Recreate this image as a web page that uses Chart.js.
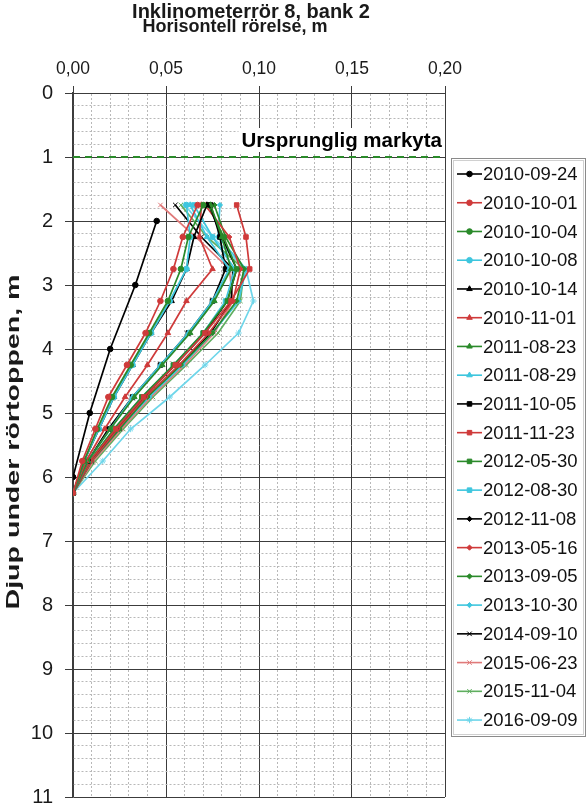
<!DOCTYPE html>
<html>
<head>
<meta charset="utf-8">
<script src="https://cdn.jsdelivr.net/npm/chart.js@4.4.0/dist/chart.umd.min.js"></script>
<style>
html,body{margin:0;padding:0;background:#fff;}
#wrap{width:588px;height:807px;position:relative;}
canvas{display:block;}
</style>
</head>
<body>
<div id="wrap"><canvas id="c" width="588" height="807"></canvas></div>
<script>
// ---------- texts ----------
const titleText = 'Inklinometerrör 8, bank 2';
const xAxisTitle = 'Horisontell rörelse, m';
const yAxisTitle = 'Djup under rörtoppen, m';
const groundLabel = 'Ursprunglig markyta';

// ---------- axes ----------
const xMin = 0, xMax = 0.20, xStep = 0.01, xMajor = 0.05;
const yMin = 0, yMax = 11, yStep = 0.2;

// ---------- ground surface line ----------
const groundX = [0, 0.20];
const groundDepth = [1, 1];

// ---------- depths (m) ----------
const depthsFirst = [2, 3, 4, 5, 6];
const depths = [1.75, 2.25, 2.75, 3.25, 3.75, 4.25, 4.75, 5.25, 5.75, 6.25];

// ---------- series dates ----------
const dates = ['2010-09-24','2010-10-01','2010-10-04','2010-10-08','2010-10-14','2010-11-01',
  '2011-08-23','2011-08-29','2011-10-05','2011-11-23','2012-05-30','2012-08-30','2012-11-08',
  '2013-05-16','2013-09-05','2013-10-30','2014-09-10','2015-06-23','2015-11-04','2016-09-09'];

// ---------- horizontal displacement (m) ----------
const d20100924 = [0.045, 0.0335, 0.020, 0.009, 0.000];
const d20101001 = [0.067, 0.059, 0.054, 0.047, 0.039, 0.029, 0.019, 0.012, 0.005, 0];
const d20101004 = [0.070, 0.062, 0.058, 0.051, 0.041, 0.031, 0.021, 0.013, 0.006, 0];
const d20101008 = [0.061, 0.063, 0.061, 0.052, 0.042, 0.032, 0.022, 0.014, 0.006, 0];
const d20101014 = [0.072, 0.065, 0.061, 0.053, 0.042, 0.032, 0.022, 0.014, 0.006, 0];
const d20101101 = [0.069, 0.068, 0.075, 0.061, 0.051, 0.040, 0.028, 0.017, 0.007, 0];
const d20110823 = [0.074, 0.080, 0.085, 0.076, 0.063, 0.048, 0.033, 0.020, 0.008, 0];
const d20110829 = [0.063, 0.072, 0.084, 0.075, 0.062, 0.047, 0.032, 0.020, 0.008, 0];
const d20111005 = [0.074, 0.079, 0.082, 0.075, 0.062, 0.047, 0.032, 0.019, 0.008, 0];
const d20111123 = [0.088, 0.093, 0.095, 0.085, 0.071, 0.055, 0.038, 0.023, 0.009, 0];
const d20120530 = [0.073, 0.081, 0.088, 0.083, 0.070, 0.054, 0.037, 0.022, 0.009, 0];
const d20120830 = [0.065, 0.075, 0.087, 0.082, 0.070, 0.054, 0.037, 0.022, 0.009, 0];
const d20121108 = [0.073, 0.080, 0.088, 0.083, 0.071, 0.055, 0.038, 0.023, 0.009, 0];
const d20130516 = [0.071, 0.084, 0.090, 0.086, 0.073, 0.057, 0.039, 0.024, 0.010, 0];
const d20130905 = [0.076, 0.082, 0.092, 0.088, 0.075, 0.058, 0.040, 0.025, 0.010, 0];
const d20131030 = [0.079, 0.078, 0.093, 0.089, 0.075, 0.059, 0.041, 0.025, 0.010, 0];
const d20140910 = [0.055, 0.069, 0.086, 0.085, 0.074, 0.058, 0.040, 0.025, 0.010, 0];
const d20150623 = [0.047, 0.066, 0.084, 0.086, 0.076, 0.060, 0.042, 0.026, 0.011, 0];
const d20151104 = [0.058, 0.072, 0.092, 0.090, 0.078, 0.061, 0.043, 0.027, 0.012, 0];
const d20160909 = [0.060, 0.075, 0.093, 0.097, 0.089, 0.071, 0.052, 0.031, 0.016, 0];

const seriesValues = [d20100924,d20101001,d20101004,d20101008,d20101014,d20101101,d20110823,
  d20110829,d20111005,d20111123,d20120530,d20120830,d20121108,d20130516,d20130905,d20131030,
  d20140910,d20150623,d20151104,d20160909];

// ---------- styles ----------
const palette = ['#000000', '#CF3A3A', '#2A8A2A', '#3EC6DE'];
const lightPalette = ['#000000', '#E07A7A', '#5FAE5F', '#6ED6EA'];
const markerStyles = ['circle','circle','circle','circle','triangle','triangle','triangle','triangle',
  'rect','rect','rect','rect','rectRot','rectRot','rectRot','rectRot','crossRot','crossRot','crossRot','star'];
const FONT = '"Liberation Sans", Arial, sans-serif';

const datasets = seriesValues.map((vals, i) => {
  const ys = (i === 0) ? depthsFirst : depths;
  const col = (i >= 17) ? lightPalette[i % 4] : palette[i % 4];
  return {
    label: dates[i],
    data: vals.map((v, k) => ({x: v, y: ys[k]})),
    showLine: true,
    borderColor: col,
    backgroundColor: col,
    borderWidth: 1.7,
    pointStyle: markerStyles[i],
    pointRadius: markerStyles[i] === 'circle' ? 2.8 : (markerStyles[i]==='rectRot' ? 2.6 : 3.2),
    pointBorderWidth: 1,
    pointBorderColor: col,
    pointBackgroundColor: col,
    tension: 0
  };
});

datasets.push({
  label: '__ground',
  data: groundX.map((x, k) => ({x: x, y: groundDepth[k]})),
  showLine: true,
  borderColor: '#2A8A2A',
  borderWidth: 1.8,
  borderDash: [7, 5],
  pointRadius: 0,
  order: 100
});

const isMajorX = v => Math.abs(v / xMajor - Math.round(v / xMajor)) < 1e-6;
const isInt = v => Math.abs(v - Math.round(v)) < 1e-6;

const decorPlugin = {
  id: 'decor',
  afterDatasetsDraw(chart) {
    const ctx = chart.ctx;
    const ca = chart.chartArea;
    // ground label with white background
    ctx.save();
    ctx.font = 'bold 20.5px ' + FONT;
    const tw = ctx.measureText(groundLabel).width;
    const right = ca.right - 3;
    const yb = chart.scales.y.getPixelForValue(groundDepth[0]) - 10;
    ctx.fillStyle = '#ffffff';
    ctx.fillRect(right - tw - 3, yb - 19, tw + 5, 24);
    ctx.fillStyle = '#000000';
    ctx.textAlign = 'right';
    ctx.textBaseline = 'alphabetic';
    ctx.fillText(groundLabel, right, yb);
    ctx.restore();
  },
  afterDraw(chart) {
    const ctx = chart.ctx;
    const ca = chart.chartArea;
    ctx.save();
    // titles
    ctx.fillStyle = '#1a1a1a';
    ctx.textAlign = 'center';
    ctx.textBaseline = 'middle';
    ctx.font = 'bold 20px ' + FONT;
    ctx.fillText(titleText, 251, 12);
    ctx.font = 'bold 18px ' + FONT;
    ctx.fillText(xAxisTitle, 235, 27);
    // y title (stretched along its length like the reference)
    ctx.save();
    ctx.font = 'bold 19px ' + FONT;
    const w = ctx.measureText(yAxisTitle).width;
    ctx.translate(14, 442);
    ctx.rotate(-Math.PI / 2);
    ctx.scale(335 / w, 1);
    ctx.fillText(yAxisTitle, 0, 0);
    ctx.restore();

    // legend
    const lx = 451, ly = 158, lw = 134, lh = 578;
    ctx.fillStyle = '#ffffff';
    ctx.fillRect(lx, ly, lw, lh);
    ctx.strokeStyle = '#8a8a8a';
    ctx.lineWidth = 1;
    ctx.strokeRect(lx + 0.5, ly + 0.5, lw, lh);
    ctx.strokeStyle = '#d0d0d0';
    ctx.strokeRect(lx + 2.5, ly + 2.5, lw - 4, lh - 4);
    const items = chart.data.datasets.filter(d => d.label !== '__ground');
    const rowH = 28.74;
    items.forEach((d, i) => {
      const cy = 174 + i * rowH;
      ctx.strokeStyle = d.borderColor;
      ctx.lineWidth = 1.6;
      ctx.setLineDash([]);
      ctx.beginPath();
      ctx.moveTo(457, cy);
      ctx.lineTo(482, cy);
      ctx.stroke();
      ctx.fillStyle = d.borderColor;
      ctx.lineWidth = 1;
      Chart.helpers.drawPoint(ctx, {pointStyle: d.pointStyle, radius: d.pointRadius, rotation: 0, borderWidth: 1}, 469.5, cy);
      ctx.fillStyle = '#111111';
      ctx.textAlign = 'left';
      ctx.textBaseline = 'middle';
      ctx.font = '18.5px ' + FONT;
      ctx.fillText(d.label, 483, cy + 1);
    });
    ctx.restore();
  }
};

new Chart(document.getElementById('c'), {
  type: 'scatter',
  data: { datasets: datasets },
  plugins: [decorPlugin],
  options: {
    responsive: false,
    animation: false,
    devicePixelRatio: 1,
    layout: { padding: { left: 0, top: 0, right: 143, bottom: 10 } },
    plugins: { legend: { display: false }, tooltip: { enabled: false }, title: { display: false } },
    scales: {
      x: {
        type: 'linear',
        position: 'top',
        min: xMin, max: xMax,
        afterFit: s => { s.height = 93; s.paddingLeft = 0; s.paddingRight = 0; },
        ticks: {
          stepSize: xStep,
          maxTicksLimit: 1000,
          autoSkip: false,
          maxRotation: 0,
          padding: 6,
          color: '#1a1a1a',
          font: { size: 17.5, family: FONT },
          callback: v => isMajorX(v) ? v.toFixed(2).replace('.', ',') : ''
        },
        grid: {
          color: c => (c.tick && isMajorX(c.tick.value)) ? '#3c3c3c' : '#b8b8b8',
          lineWidth: 1,
          tickLength: 7,
          tickColor: c => (c.tick && isMajorX(c.tick.value)) ? '#3c3c3c' : 'rgba(0,0,0,0)'
        },
        border: {
          display: true,
          color: '#3c3c3c',
          width: 1,
          dash: c => (c.tick && !isMajorX(c.tick.value)) ? [2, 2] : []
        }
      },
      y: {
        type: 'linear',
        reverse: true,
        min: yMin, max: yMax,
        afterFit: s => { s.width = 73; s.paddingTop = 0; s.paddingBottom = 0; },
        ticks: {
          stepSize: yStep,
          maxTicksLimit: 1000,
          autoSkip: false,
          padding: 12,
          color: '#1a1a1a',
          font: { size: 20, family: FONT },
          callback: v => isInt(v) ? String(Math.round(v)) : ''
        },
        grid: {
          color: c => (c.tick && isInt(c.tick.value)) ? '#3c3c3c' : '#b8b8b8',
          lineWidth: 1,
          tickLength: 8,
          tickColor: c => (c.tick && isInt(c.tick.value)) ? '#3c3c3c' : 'rgba(0,0,0,0)'
        },
        border: {
          display: true,
          color: '#3c3c3c',
          width: 1.5,
          dash: c => (c.tick && !isInt(c.tick.value)) ? [2, 2] : []
        }
      }
    }
  }
});
</script>
</body>
</html>
